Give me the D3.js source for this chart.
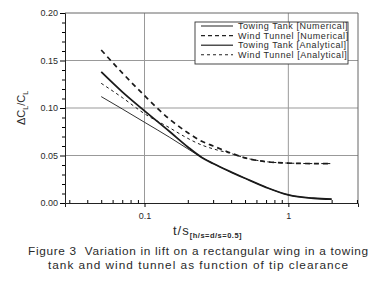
<!DOCTYPE html>
<html>
<head>
<meta charset="utf-8">
<script src="https://cdn.jsdelivr.net/npm/d3@7"></script>
<style>
  body { margin: 0; background: #fff; }
  text { font-family: "Liberation Sans", Arial, sans-serif; fill: #2a2a2a; }
</style>
</head>
<body>
<div id="chart"></div>
<script>
// data (t/s vs delta CL / CL)
const tGrid = [0.05, 0.07, 0.1, 0.15, 0.2, 0.25, 0.3, 0.4, 0.5, 0.7, 1, 1.5, 2];
const towingNumerical = [0.138, 0.117, 0.097, 0.075, 0.059, 0.048, 0.0415, 0.0325, 0.026, 0.0165, 0.0085, 0.005, 0.004];
const towingAnalytical = [0.112, 0.099, 0.085, 0.069, 0.057, 0.048, 0.0415, 0.0325, 0.026, 0.0165, 0.0085, 0.005, 0.004];
const windNumerical = [0.161, 0.137, 0.113, 0.088, 0.074, 0.065, 0.060, 0.0525, 0.0475, 0.0435, 0.042, 0.0415, 0.0415];
const windAnalytical = [0.126, 0.111, 0.094, 0.079, 0.068, 0.061, 0.057, 0.052, 0.0475, 0.0435, 0.042, 0.0415, 0.0415];
const yTicks = [0, 0.05, 0.1, 0.15, 0.2];
const xTicks = [0.1, 1];
const legendLabels = ["Towing Tank [Numerical]", "Wind Tunnel [Numerical]", "Towing Tank [Analytical]", "Wind Tunnel [Analytical]"];

const width = 392, height = 302;
const plot = {left: 65, right: 358, top: 13, bottom: 203};

const svg = d3.select("#chart")
    .append("svg")
    .attr("width", width)
    .attr("height", height);

const x = d3.scaleLog()
    .domain([0.028, 3.05])
    .range([plot.left, plot.right]);

const y = d3.scaleLinear()
    .domain([0, 0.2])
    .range([plot.bottom, plot.top]);

// grid lines
svg.append("g")
    .selectAll("line")
    .data(yTicks.filter(d => d > 0 && d < 0.2))
    .join("line")
    .attr("x1", plot.left).attr("x2", plot.right)
    .attr("y1", d => y(d)).attr("y2", d => y(d))
    .attr("stroke", "#999").attr("stroke-width", 1);

svg.append("g")
    .selectAll("line")
    .data(xTicks)
    .join("line")
    .attr("x1", d => x(d)).attr("x2", d => x(d))
    .attr("y1", plot.top).attr("y2", plot.bottom)
    .attr("stroke", "#999").attr("stroke-width", 1);

// frame top / right
svg.append("path")
    .attr("d", `M${plot.left},${plot.top}H${plot.right}V${plot.bottom}`)
    .attr("fill", "none")
    .attr("stroke", "#666");

// y axis
const yAxis = svg.append("g")
    .attr("transform", `translate(${plot.left},0)`)
    .call(d3.axisLeft(y).tickValues(yTicks).tickFormat(d3.format(".2f")).tickSize(5).tickPadding(2));
yAxis.select(".domain").attr("stroke", "#222");
yAxis.selectAll("text").attr("font-size", 9).style("fill", "#2a2a2a");
svg.append("g")
    .attr("transform", `translate(${plot.left},0)`)
    .call(d3.axisLeft(y).tickValues(d3.range(0, 0.2001, 0.01).filter(d => Math.round(d * 100) % 5 !== 0)).tickSize(3).tickFormat(""))
    .call(g => g.select(".domain").remove());

// x axis
const xAxis = svg.append("g")
    .attr("transform", `translate(0,${plot.bottom})`)
    .call(d3.axisBottom(x).tickValues(xTicks).tickFormat(d3.format("")).tickSize(4).tickPadding(6));
xAxis.select(".domain").attr("stroke", "#222");
xAxis.selectAll("text").attr("font-size", 9).style("fill", "#2a2a2a");
const minorX = [0.03, 0.04, 0.05, 0.06, 0.07, 0.08, 0.09, 0.2, 0.3, 0.4, 0.5, 0.6, 0.7, 0.8, 0.9, 2, 3];
svg.append("g")
    .attr("transform", `translate(0,${plot.bottom})`)
    .call(d3.axisTop(x).tickValues(minorX).tickSize(3).tickFormat(""))
    .call(g => g.select(".domain").remove());

// curves
const series = [
    {values: windNumerical, width: 1.7, dash: "5,4"},
    {values: windAnalytical, width: 1.0, dash: "3,3"},
    {values: towingAnalytical, width: 0.9, dash: null},
    {values: towingNumerical, width: 1.8, dash: null}
];

const line = d3.line()
    .x(d => x(d[0]))
    .y(d => y(d[1]))
    .curve(d3.curveMonotoneX);

svg.append("g")
    .selectAll("path")
    .data(series)
    .join("path")
    .attr("d", s => line(tGrid.map((t, i) => [t, s.values[i]])))
    .attr("fill", "none")
    .attr("stroke", "#1a1a1a")
    .attr("stroke-width", s => s.width)
    .attr("stroke-dasharray", s => s.dash);

// legend
const legend = svg.append("g");
legend.append("rect")
    .attr("x", 195).attr("y", 22)
    .attr("width", 153).attr("height", 42)
    .attr("fill", "#fff")
    .attr("stroke", "#333").attr("stroke-width", 0.9);

const legendStyle = [
    {width: 1.0, dash: null},
    {width: 1.3, dash: "4,3"},
    {width: 1.2, dash: null},
    {width: 1.1, dash: "3,3"}
];
legendLabels.forEach((label, i) => {
    const ly = 26 + i * 9.6;
    legend.append("line")
        .attr("x1", 201).attr("x2", 233)
        .attr("y1", ly).attr("y2", ly)
        .attr("stroke", "#222")
        .attr("stroke-width", legendStyle[i].width)
        .attr("stroke-dasharray", legendStyle[i].dash);
    legend.append("text")
        .attr("x", 238).attr("y", ly + 3.2)
        .attr("font-size", 9)
        .attr("letter-spacing", 0.55)
        .text(label);
});

// y label
const yLab = svg.append("text")
    .attr("transform", "translate(25,108) rotate(-90)")
    .attr("text-anchor", "middle")
    .attr("font-size", 11);
yLab.append("tspan").text("\u0394C");
yLab.append("tspan").attr("font-size", 7).attr("dy", 3).text("L");
yLab.append("tspan").attr("dy", -3).text("/C");
yLab.append("tspan").attr("font-size", 7).attr("dy", 3).text("L");

// x label
const xLab = svg.append("text")
    .attr("x", 173).attr("y", 235)
    .attr("font-size", 13);
xLab.append("tspan").attr("letter-spacing", 1).text("t/s");
xLab.append("tspan").attr("font-size", 7.5).attr("font-weight", "bold")
    .attr("letter-spacing", 0.5).attr("dy", 3).text("[h/s=d/s=0.5]");

// caption
svg.append("text")
    .attr("x", 28).attr("y", 255)
    .attr("font-size", 11.8)
    .attr("textLength", 340)
    .attr("lengthAdjust", "spacing")
    .style("white-space", "pre")
    .text("Figure 3  Variation in lift on a rectangular wing in a towing");
svg.append("text")
    .attr("x", 48).attr("y", 268.5)
    .attr("font-size", 11.8)
    .attr("textLength", 300)
    .attr("lengthAdjust", "spacing")
    .text("tank and wind tunnel as function of tip clearance");
</script>
</body>
</html>
